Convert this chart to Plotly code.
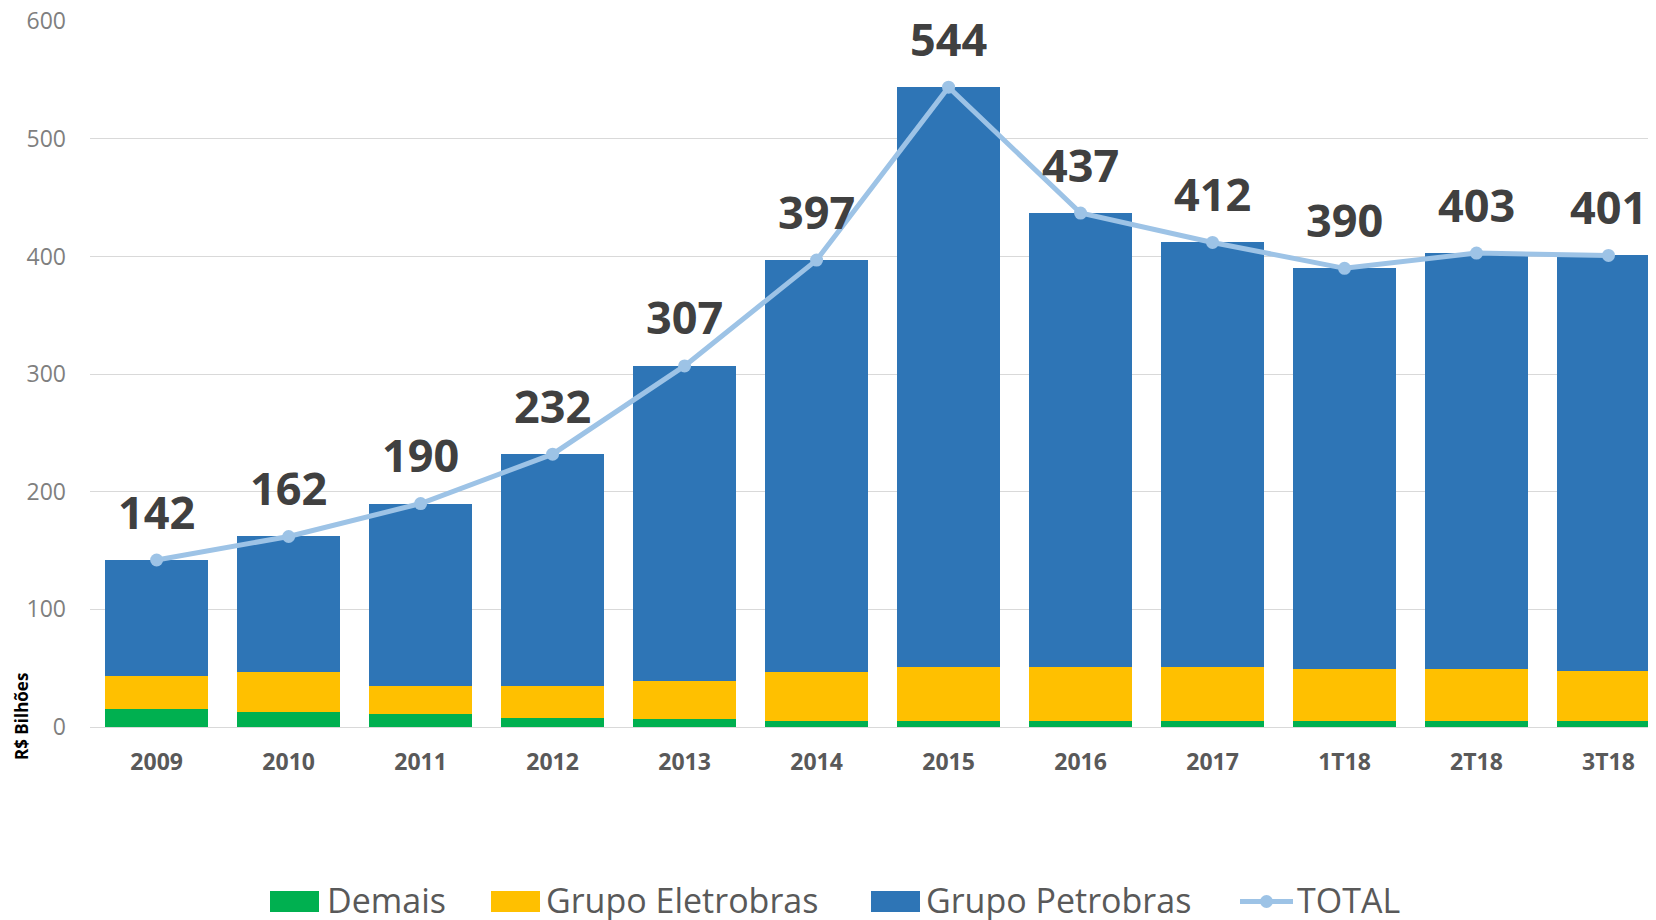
import plotly.graph_objects as go

categories = ["2009", "2010", "2011", "2012", "2013", "2014", "2015", "2016", "2017", "1T18", "2T18", "3T18"]
demais = [15, 13, 11, 8, 7, 5, 5, 5, 5, 5, 5, 5]
eletrobras = [28, 34, 24, 27, 32, 42, 46, 46, 46, 44, 44, 43]
petrobras = [99, 115, 155, 197, 268, 350, 493, 386, 361, 341, 354, 353]
total = [142, 162, 190, 232, 307, 397, 544, 437, 412, 390, 403, 401]
y_ticks = [0, 100, 200, 300, 400, 500, 600]

C_DEM = "#00B050"
C_ELE = "#FFC000"
C_PET = "#2E75B6"
C_TOT = "#9DC3E6"
FONT = "Open Sans"

OFF = 8  # page body margin
W, H = 1656 - OFF, 920 - OFF
ML, MR, MT, MB = 90 - OFF, 0, 21 - OFF, 193
PW, PH = W - ML - MR, H - MT - MB


def px_x(p):
    return (p - OFF - ML) / PW


def px_y(p):
    return (H - MB - (p - OFF)) / PH


fig = go.Figure()
fig.add_trace(go.Bar(x=categories, y=demais, name="Demais", marker=dict(color=C_DEM, line=dict(width=0))))
fig.add_trace(go.Bar(x=categories, y=eletrobras, name="Grupo Eletrobras", marker=dict(color=C_ELE, line=dict(width=0))))
fig.add_trace(go.Bar(x=categories, y=petrobras, name="Grupo Petrobras", marker=dict(color=C_PET, line=dict(width=0))))
fig.add_trace(go.Scatter(x=categories, y=total, name="TOTAL", mode="lines+markers",
                         line=dict(color=C_TOT, width=5), marker=dict(color=C_TOT, size=13)))

annotations = []
for i, v in enumerate(total):
    annotations.append(dict(x=i, y=v, xref="x", yref="y", text=str(v), showarrow=False,
                            yshift=49, yanchor="middle",
                            font=dict(family=FONT, size=45, color="#404040", weight="bold")))

# Y axis title (small rotated text at lower left)
annotations.append(dict(x=px_x(21), y=px_y(717), xref="paper", yref="paper", text="R$ Bilhões",
                        showarrow=False, textangle=-90, xanchor="center", yanchor="middle",
                        font=dict(family=FONT, size=17, color="#000000", weight="bold")))

# Custom legend
shapes = []
legend_items = [
    ("Demais", C_DEM, 270, 326, "rect"),
    ("Grupo Eletrobras", C_ELE, 491, 545, "rect"),
    ("Grupo Petrobras", C_PET, 871, 925, "rect"),
    ("TOTAL", C_TOT, 1240, 1296, "line"),
]
ly_top, ly_bot, ly_mid = 891, 912, 901.5
for name, col, sx, tx, kind in legend_items:
    if kind == "rect":
        shapes.append(dict(type="rect", xref="paper", yref="paper",
                           x0=px_x(sx), x1=px_x(sx + 49), y0=px_y(ly_bot), y1=px_y(ly_top),
                           fillcolor=col, line=dict(width=0)))
    else:
        shapes.append(dict(type="line", xref="paper", yref="paper",
                           x0=px_x(sx), x1=px_x(sx + 53), y0=px_y(ly_mid), y1=px_y(ly_mid),
                           line=dict(color=col, width=5)))
        cx = sx + 26.5
        shapes.append(dict(type="circle", xref="paper", yref="paper",
                           x0=px_x(cx - 6.5), x1=px_x(cx + 6.5), y0=px_y(ly_mid + 6.5), y1=px_y(ly_mid - 6.5),
                           fillcolor=col, line=dict(width=0)))
    annotations.append(dict(x=px_x(tx), y=px_y(ly_mid - 2), xref="paper", yref="paper", text=name,
                            showarrow=False, xanchor="left", yanchor="middle", borderpad=0,
                            font=dict(family=FONT, size=34, color="#595959")))

fig.update_layout(
    width=W, height=H,
    margin=dict(l=ML, r=MR, t=MT, b=MB, pad=0, autoexpand=False),
    barmode="stack", bargap=0.22,
    plot_bgcolor="white", paper_bgcolor="white",
    showlegend=False,
    font=dict(family=FONT),
    annotations=annotations,
    shapes=shapes,
    xaxis=dict(type="category", range=[-0.505, 11.36], showgrid=False, showline=True,
               linecolor="#D9D9D9", linewidth=1, automargin=False,
               ticks="", ticklabelstandoff=14,
               tickfont=dict(family=FONT, size=23, color="#595959", weight="bold")),
    yaxis=dict(range=[0, 600.3], tickvals=y_ticks, showgrid=True, gridcolor="#D9D9D9", gridwidth=1,
               zeroline=False, showline=False, ticks="", ticklabelstandoff=23,
               ticklabeloverflow="allow", automargin=False,
               tickfont=dict(family=FONT, size=23, color="#7F7F7F")),
)

fig.write_html("out.html")
